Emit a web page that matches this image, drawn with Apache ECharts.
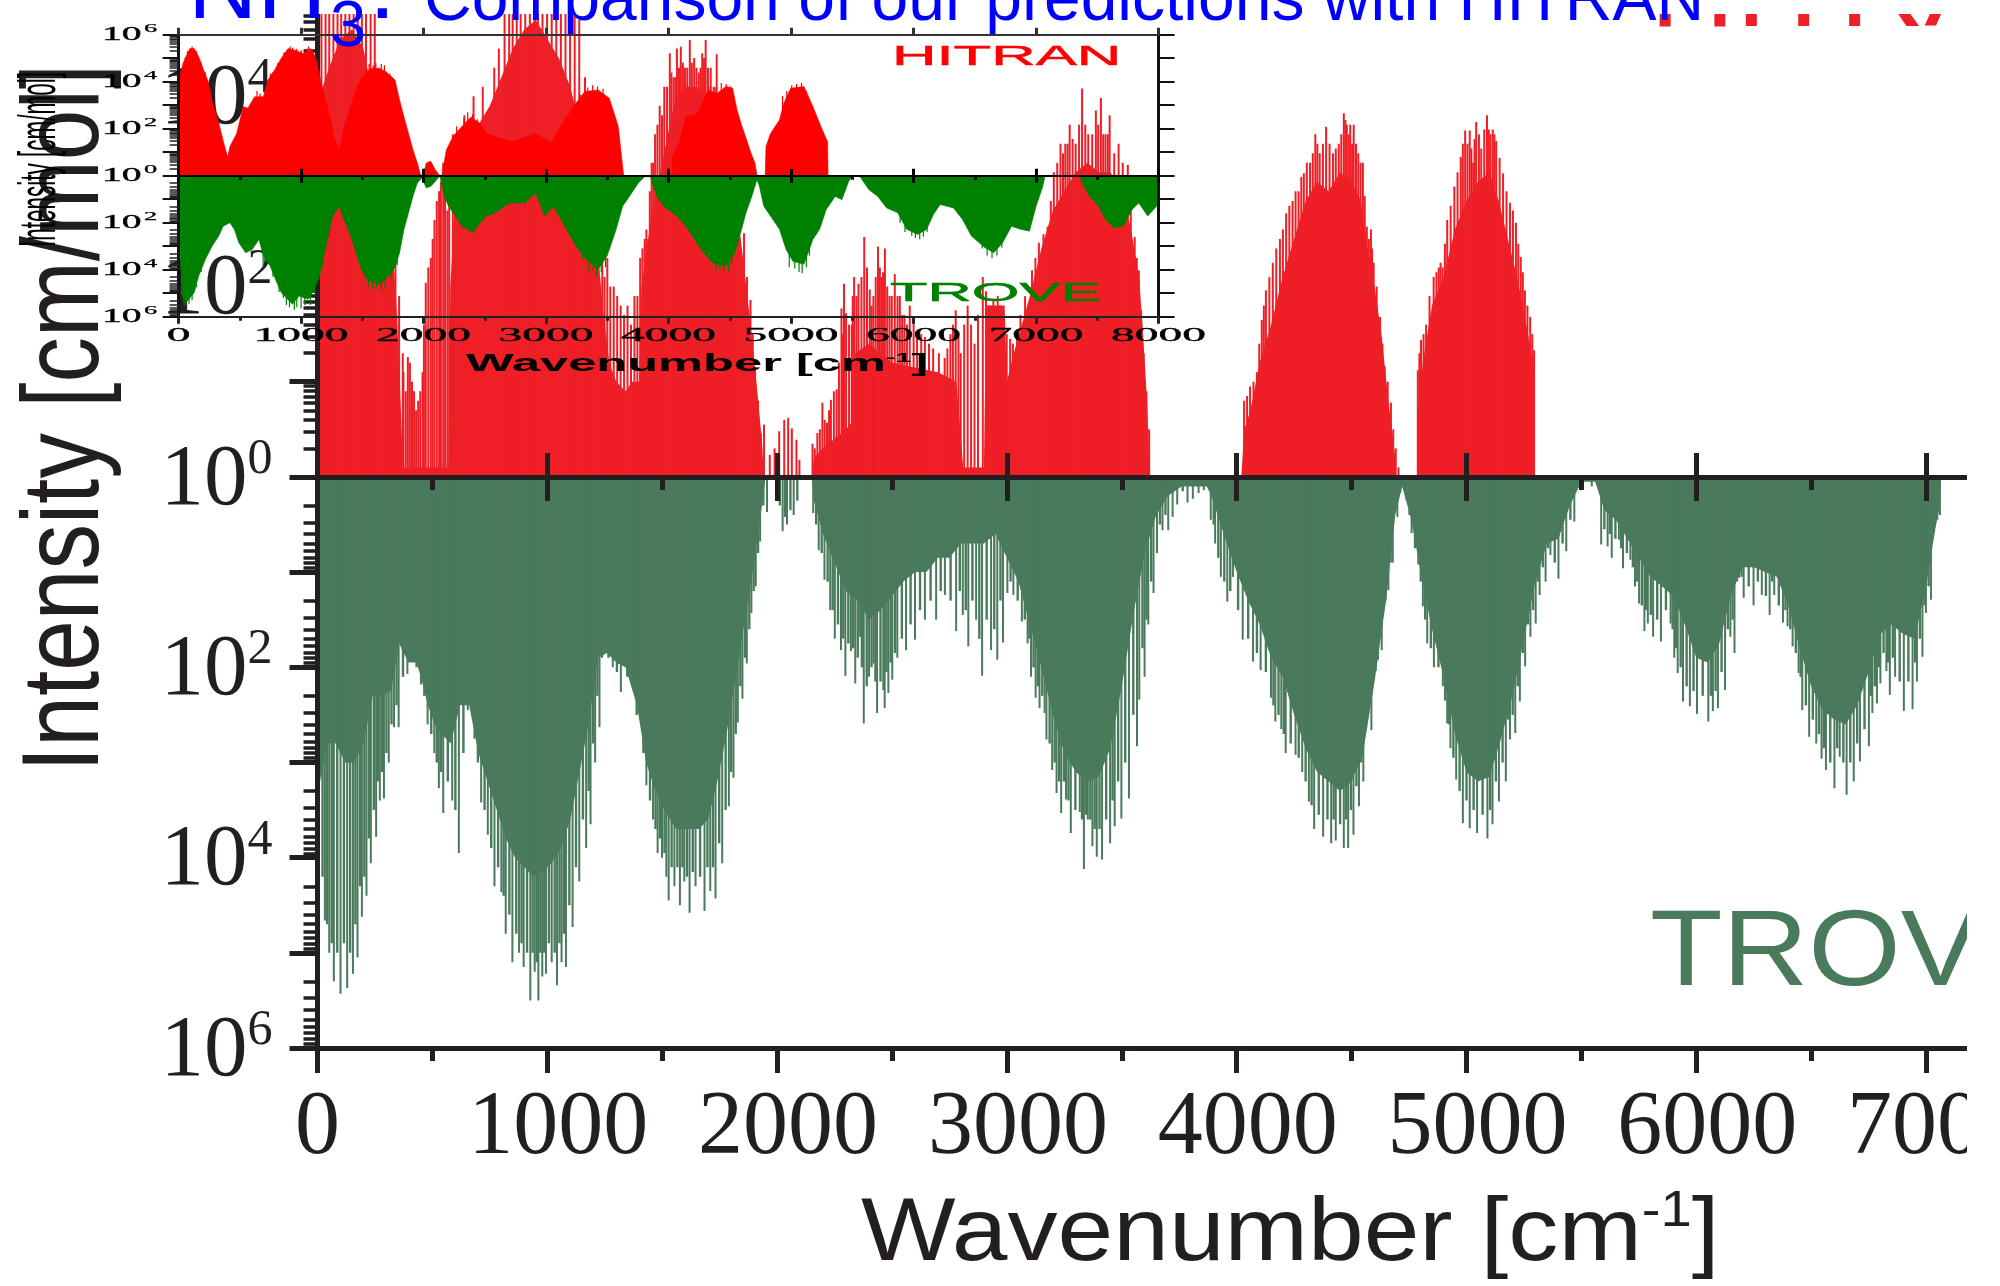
<!DOCTYPE html>
<html><head><meta charset="utf-8">
<style>html,body{margin:0;padding:0;background:#fff}#c{width:2000px;height:1286px}</style>
<script src="https://cdn.jsdelivr.net/npm/echarts@6/dist/echarts.min.js"></script>
</head><body><div id="c"></div>
<script>
// All intensities are exponents of ten (10^n); TROVE is plotted downwards as -n.
const mainRedBody=[[8,0],[10,4],[50,4.3],[100,4.6],[150,4.7],[200,4.5],[250,3.9],[300,3],[330,2.3],[346,1.7],[360,.9],[372,.1],[570,.1],[578,2],[600,3],[650,3.5],[700,3.7],[750,3.9],[800,4.2],[850,4.5],[900,4.7],[950,4.8],[1000,4.6],[1050,4.4],[1100,4.1],[1150,3.6],[1200,3],[1240,1.8],[1270,1.2],[1300,1],[1340,.9],[1370,1],[1400,1],[1410,2],[1450,2.7],[1500,3.3],[1550,3.9],[1600,4.1],[1650,4.1],[1700,4],[1750,3.7],[1800,3.2],[1842,2.5],[1880,1.7],[1910,1],[1935,.35],[1942,0],[2150,0],[2160,.2],[2200,.3],[2300,.5],[2335,.6],[2340,1.3],[2400,1.4],[2500,1.2],[2600,1.15],[2700,1.1],[2780,1],[2810,.1],[2900,.1],[2910,1.8],[2990,1.8],[3000,1],[3030,1.3],[3100,1.9],[3150,2.4],[3200,2.8],[3250,3],[3300,3.2],[3350,3.3],[3400,3.2],[3450,3.2],[3500,3],[3540,2.6],[3575,2.1],[3590,1.6],[3610,.8],[3622,0],[4020,0],[4033,.5],[4060,.7],[4100,1.2],[4150,1.6],[4200,2.1],[4250,2.5],[4300,2.9],[4350,3.1],[4400,3],[4450,3.2],[4500,3.1],[4540,2.9],[4570,2.4],[4600,2],[4630,1.5],[4660,.8],[4690,.2],[4695,0],[4785,0],[4790,.7],[4810,1.2],[4850,1.8],[4900,2.1],[4950,2.6],[5000,2.9],[5050,3.1],[5100,3.2],[5140,2.9],[5180,2.5],[5220,2.1],[5260,1.6],[5296,1.1],[5297,0]];
const mainRedLines=[[18,5],[36,5],[52,5],[70,5],[88,5],[104,5],[122,5],[140,5],[158,5],[176,5],[194,5],[212,5],[232,5],[250,5],[268,4.3],[286,3.6],[304,3.2],[322,2.9],[340,2.3],[356,1.9],[372,1.3],[394,1.26],[412,1],[430,.7],[448,.9],[472,2.04],[494,2.3],[510,2.7],[530,3],[548,3.3],[600,3.6],[640,3.8],[680,4],[720,4.1],[770,4.3],[790,4.5],[815,5],[835,5],[850,5],[868,5],[885,5],[905,5],[925,5],[945,5],[960,5],[980,5],[1000,5],[1020,5],[1040,5],[1060,5],[1080,5],[1100,5],[1120,5],[1140,4.8],[1165,4.2],[1190,3.6],[1215,2.9],[1240,2.5],[1262,2.3],[1290,2],[1320,1.8],[1350,1.8],[1380,1.9],[1405,2.3],[1425,2.5],[1440,2.5],[1455,3.3],[1470,3.6],[1490,3.9],[1510,4.1],[1534,4.45],[1550,4.2],[1565,4.5],[1582,4.52],[1600,4.3],[1621,4.59],[1640,4.4],[1660,4.25],[1675,4.45],[1690,4.59],[1712,4.3],[1738,4.44],[1760,3.9],[1780,3.6],[1810,3.3],[1857,2.56],[1885,1.86],[1905,1.15],[1930,.46],[1944,.55],[1969,.23],[1990,.3],[2010,.48],[2032,.6],[2049,.62],[2065,.51],[2085,.39],[2098,.18],[2155,.35],[2176,.46],[2198,.78],[2218,.57],[2235,.81],[2260,.92],[2281,1.77],[2292,2.03],[2301,1.72],[2326,1.6],[2336,2.1],[2355,2.03],[2380,2.52],[2404,1.97],[2420,1.9],[2440,2.42],[2455,2.1],[2470,2.4],[2490,1.9],[2513,2.13],[2535,1.9],[2555,1.7],[2578,1.8],[2610,1.5],[2644,1.47],[2680,1.35],[2730,1.25],[2755,1.5],[2778,1.75],[2800,1.3],[2830,1.8],[2860,1.4],[2896,2.1],[2925,1.8],[2961,1.9],[2979,1.7],[3027,1.4],[3060,1.7],[3110,2.17],[3140,2.46],[3178,2.63],[3205,3.2],[3234,3.5],[3255,3.5],[3274,3.7],[3300,3.5],[3328,4.08],[3355,3.6],[3388,3.85],[3410,3.98],[3430,3.6],[3448,3.8],[3487,3.5],[3527,3.28],[3557,2.52],[3575,2.17],[3585,1.75],[3608,.9],[3620,.5],[4033,.8],[4059,.95],[4089,1.1],[4110,1.65],[4128,1.96],[4158,2.25],[4189,2.5],[4216,2.77],[4244,2.9],[4270,3],[4293,3.19],[4320,3.3],[4343,3.6],[4362,3.4],[4390,3.68],[4420,3.4],[4445,3.5],[4467,3.82],[4480,3.7],[4495,3.7],[4510,3.7],[4530,3.4],[4550,3.3],[4567,2.63],[4585,2.6],[4597,2.25],[4625,1.68],[4645,1.16],[4672,.78],[4693,.3],[4705,.1],[4789,1.12],[4803,1.44],[4825,1.6],[4858,2.1],[4880,2.2],[4897,2.2],[4917,2.7],[4948,3.05],[4976,3.36],[4995,3.64],[5015,3.64],[5030,3.3],[5043,3.73],[5065,3.45],[5090,3.8],[5105,3.6],[5115,3.65],[5130,3.53],[5160,3.19],[5190,2.88],[5216,2.67],[5237,2.31],[5255,1.96],[5278,1.68],[5295,1.33]];
const mainRedLinesFine=[[375,1.1],[385,.9],[403,1.2],[421,.9],[439,.8],[458,1.1],[464,1.6],[483,2.2],[502,2.5],[520,2.9],[538,3.1],[556,3.3],[566,2.8],[574,3.2],[590,3.6],[1250,2.1],[1275,2],[1305,1.9],[1335,1.7],[1365,1.6],[1393,1.9],[1415,2.4],[1432,2.6],[1447,3],[1462,3.3],[1480,3.7],[1500,3.8],[1522,4.1],[1541,4.25],[1558,4.2],[1574,4.3],[1591,4.35],[1610,4.3],[1630,4.35],[1650,4.3],[1668,4.3],[1683,4.4],[1700,4.3],[1725,4.1],[1750,3.9],[1770,3.5],[1795,3.3],[1830,2.8],[1870,2.1],[1895,1.5],[1918,.8],[2165,.3],[2187,.5],[2208,.6],[2227,.7],[2248,.9],[2270,1.2],[2286,1.5],[2314,1.6],[2330,1.9],[2346,1.9],[2368,2.1],[2392,2.2],[2412,1.8],[2430,2.1],[2448,2.2],[2462,2.15],[2480,2],[2500,1.9],[2525,1.9],[2545,1.7],[2566,1.6],[2595,1.65],[2628,1.5],[2662,1.4],[2705,1.3],[2742,1.35],[2766,1.6],[2790,1.5],[2815,1.6],[2845,1.6],[2875,1.7],[2910,1.95],[2942,1.85],[2970,1.8],[3000,1.5],[3015,1.45],[3045,1.5],[3080,1.9],[3125,2.3],[3160,2.55],[3192,2.9],[3220,3.3],[3245,3.4],[3265,3.5],[3287,3.55],[3315,3.7],[3342,3.7],[3372,3.6],[3398,3.7],[3420,3.6],[3440,3.6],[3468,3.4],[3505,3.3],[3540,2.8],[3566,2.3],[3596,1.3],[4046,.85],[4074,1],[4099,1.4],[4119,1.8],[4143,2.1],[4173,2.4],[4202,2.6],[4230,2.85],[4257,3],[4282,3.15],[4306,3.3],[4332,3.4],[4352,3.5],[4376,3.5],[4405,3.5],[4432,3.45],[4456,3.6],[4474,3.75],[4488,3.6],[4503,3.5],[4520,3.5],[4540,3.3],[4558,2.95],[4576,2.5],[4590,2.4],[4610,2],[4635,1.4],[4658,1],[4682,.5],[4796,1.3],[4814,1.5],[4840,1.9],[4870,2.15],[4888,2.25],[4907,2.45],[4932,2.85],[4962,3.2],[4985,3.5],[5005,3.5],[5022,3.45],[5036,3.55],[5055,3.6],[5078,3.65],[5098,3.65],[5122,3.6],[5145,3.35],[5175,3],[5203,2.8],[5226,2.45],[5246,2.15],[5266,1.8],[5287,1.5]];
const mainGreenBody=[[5,0],[6,3],[14,3.2],[40,2.8],[80,2.8],[120,3],[160,3],[200,2.8],[240,2.3],[280,2.3],[320,2.25],[355,1.75],[395,1.95],[430,1.95],[450,2.1],[480,2.4],[510,2.6],[540,2.7],[580,2.8],[620,2.4],[660,2.4],[700,2.9],[740,3.2],[780,3.5],[820,3.8],[860,4],[900,4.1],[940,4.2],[980,4.15],[1020,4.05],[1060,3.9],[1100,3.6],[1140,3.1],[1180,2.6],[1220,1.9],[1260,1.85],[1300,1.95],[1340,2],[1390,2.4],[1430,3],[1470,3.3],[1510,3.5],[1560,3.7],[1610,3.7],[1660,3.7],[1700,3.6],[1740,3.2],[1780,2.7],[1820,2.1],[1860,1.5],[1900,.9],[1940,.2],[1950,0],[2150,0],[2160,.25],[2200,.6],[2250,.9],[2300,1.2],[2350,1.3],[2400,1.5],[2450,1.4],[2500,1.25],[2550,1.1],[2600,1],[2650,1],[2700,.85],[2750,.85],[2800,.7],[2850,.7],[2900,.7],[2950,.6],[3000,.85],[3050,1.1],[3100,1.55],[3150,2],[3200,2.5],[3250,2.9],[3300,3.1],[3350,3.2],[3400,3.15],[3450,2.85],[3500,2.2],[3550,1.45],[3600,.8],[3650,.4],[3700,.2],[3760,.1],[3870,.1],[3890,.2],[3950,.65],[4000,1],[4050,1.3],[4100,1.55],[4150,1.9],[4200,2.1],[4250,2.5],[4300,2.85],[4350,3.1],[4400,3.2],[4450,3.3],[4500,3.2],[4550,2.9],[4600,2.15],[4650,1.3],[4690,.4],[4720,.1],[4760,.45],[4800,1],[4850,1.6],[4900,2.1],[4950,2.7],[5000,3.1],[5050,3.2],[5100,3.15],[5150,2.75],[5200,2.3],[5250,1.7],[5300,1.1],[5350,.7],[5400,.65],[5450,.3],[5500,.05],[5560,.05],[5600,.35],[5650,.45],[5700,.65],[5750,.85],[5800,1.05],[5850,1.15],[5900,1.25],[5950,1.55],[6000,1.9],[6050,1.95],[6100,1.75],[6150,1.25],[6200,.95],[6250,.95],[6300,1],[6350,1.05],[6400,1.35],[6450,1.8],[6500,2.2],[6550,2.45],[6600,2.55],[6650,2.6],[6700,2.4],[6750,2.05],[6800,1.65],[6850,1.55],[6900,1.65],[6950,1.7],[7000,1.15],[7040,.55],[7060,.3],[7065,0]];
const mainGreenLines=[[33,4.66],[52,5],[72,5.3],[101,5.43],[130,5.37],[155,5.22],[175,5.05],[194,4.62],[214,4.4],[233,4.06],[256,3.78],[272,3.4],[290,3.38],[311,3],[334,2.63],[354,2.63],[392,2.07],[431,2],[451,2.18],[480,2.6],[509,2.9],[529,3.27],[548,3.53],[587,3.4],[616,3.95],[655,2.45],[684,2.75],[713,3.42],[742,3.76],[771,4.3],[801,4.36],[820,4.8],[849,5.1],[878,5],[898,5.15],[927,5.5],[946,5.2],[962,5.5],[979,5.25],[995,5.22],[1020,5.1],[1043,5.34],[1063,5.1],[1082,5.15],[1111,4.73],[1140,4.25],[1170,3.9],[1189,3.65],[1209,3],[1228,2.63],[1247,1.77],[1286,2],[1321,2.26],[1374,2.2],[1403,2.3],[1432,3.24],[1461,3.6],[1481,3.95],[1500,4],[1519,4.2],[1529,4.45],[1554,4.3],[1578,4.5],[1597,4.25],[1620,4.58],[1646,4.3],[1685,4.56],[1710,4.35],[1733,4.43],[1762,4.06],[1791,3.46],[1811,3.16],[1830,2.58],[1850,2.33],[1869,1.96],[1889,1.43],[1908,1.15],[1927,.68],[1957,.37],[2025,.57],[2044,.5],[2073,.4],[2158,.38],[2182,.77],[2207,1.08],[2232,1.4],[2252,1.7],[2279,1.82],[2298,2.09],[2322,1.83],[2341,2.17],[2362,1.68],[2378,2.59],[2401,2.1],[2421,1.96],[2436,2.48],[2463,2.24],[2469,2.43],[2485,2.27],[2502,2.13],[2524,1.9],[2562,1.82],[2601,1.71],[2644,1.5],[2693,1.5],[2731,1.24],[2780,1.62],[2809,1.45],[2833,1.78],[2867,1.5],[2893,2.09],[2932,1.82],[2959,1.92],[2984,1.74],[3003,1.22],[3029,1.24],[3066,1.52],[3091,1.75],[3106,2.1],[3126,2.32],[3143,2.43],[3165,2.48],[3173,2.76],[3198,3.08],[3217,3.32],[3237,3.53],[3258,3.39],[3279,3.74],[3318,3.52],[3336,4.12],[3353,3.6],[3373,3.88],[3392,3.99],[3415,4.02],[3450,3.85],[3470,3.67],[3499,3.59],[3532,3.38],[3567,2.83],[3577,2.34],[3600,2.1],[3616,1.55],[3639,1.22],[3654,.8],[3678,.56],[3703,.56],[3722,.42],[3742,.29],[3787,.27],[3810,.23],[3835,.17],[3858,.14],[3888,.45],[3907,.7],[3932,1.05],[3960,1.31],[3985,1.05],[4027,1.71],[4072,1.94],[4105,2.03],[4150,2.32],[4169,2.57],[4195,2.65],[4214,2.9],[4257,2.92],[4286,3.1],[4315,3.41],[4338,3.7],[4377,3.78],[4412,3.85],[4432,3.82],[4467,3.9],[4486,3.9],[4509,3.76],[4533,3.46],[4552,3.2],[4587,2.66],[4606,2.04],[4616,1.92],[4632,1.82],[4661,1.19],[4680,.9],[4700,.42],[4713,.17],[4739,.24],[4762,.59],[4791,.92],[4811,1.36],[4830,1.75],[4859,2],[4898,2.2],[4917,2.59],[4931,2.85],[4956,3.18],[4985,3.64],[5015,3.69],[5047,3.74],[5092,3.8],[5114,3.65],[5142,3.41],[5172,3.2],[5190,2.76],[5213,2.69],[5233,2.36],[5256,1.99],[5279,1.68],[5302,1.54],[5319,1.24],[5345,1.1],[5366,.82],[5401,1.07],[5435,.78],[5470,.47],[5500,.14],[5546,.1],[5587,.71],[5615,.73],[5633,.85],[5664,.66],[5682,.96],[5714,.87],[5734,1.15],[5752,1.33],[5775,1.62],[5790,1.54],[5813,1.68],[5847,1.73],[5889,1.54],[5905,1.9],[5920,2.06],[5943,2.36],[5973,2.41],[6004,2.49],[6053,2.57],[6073,2.46],[6095,2.43],[6126,2.24],[6149,1.68],[6167,1.85],[6187,1.06],[6207,1.27],[6250,1.35],[6286,1.24],[6320,1.45],[6340,1.24],[6378,1.53],[6398,1.57],[6420,1.78],[6446,2.06],[6462,2.45],[6492,2.73],[6523,2.8],[6546,2.96],[6565,3.08],[6602,3.27],[6625,2.94],[6655,3.34],[6686,3.2],[6713,2.99],[6752,2.83],[6767,2.48],[6787,2.38],[6802,2.17],[6828,2.04],[6843,2.29],[6866,2.1],[6904,2.46],[6942,2.44],[6961,2.15],[6985,1.89],[7000,1.43],[7022,1.29],[7034,.59],[7061,.4]];
const mainGreenLinesFine=[[22,4.2],[42,4.7],[62,4.9],[86,5],[115,4.9],[142,5],[165,4.7],[185,4.3],[204,4.2],[224,3.8],[245,3.5],[264,3.2],[281,3.1],[300,2.9],[322,2.6],[344,2.4],[372,2.1],[411,1.9],[441,2],[465,2.3],[495,2.7],[519,3],[538,3.1],[567,3.2],[600,3.5],[635,2.9],[670,2.4],[698,3],[727,3.5],[756,3.9],[786,4.1],[810,4.4],[835,4.6],[865,4.8],[888,4.9],[912,5],[936,5],[954,5.1],[970,5],[987,5],[1007,4.9],[1032,5],[1053,4.9],[1072,4.8],[1096,4.5],[1125,4.1],[1155,3.6],[1180,3.3],[1199,2.8],[1218,2.3],[1238,1.9],[1266,1.9],[1303,2.05],[1348,2.1],[1389,2.5],[1418,2.9],[1447,3.4],[1471,3.7],[1490,3.8],[1510,3.95],[1541,4.1],[1566,4.1],[1588,4.1],[1608,4.2],[1633,4.15],[1665,4.2],[1697,4.1],[1721,4.1],[1748,3.85],[1776,3.5],[1800,3.1],[1820,2.7],[1840,2.2],[1860,1.9],[1879,1.6],[1898,1.2],[1917,.8],[1940,.3],[2012,.3],[2035,.42],[2058,.35],[2088,.25],[2170,.5],[2194,.8],[2220,1.1],[2242,1.4],[2265,1.55],[2288,1.7],[2310,1.75],[2331,1.8],[2351,1.9],[2369,2],[2390,2.2],[2411,2],[2428,2.15],[2450,2.15],[2476,2.05],[2494,1.95],[2513,1.85],[2543,1.7],[2581,1.55],[2622,1.4],[2668,1.3],[2712,1.2],[2755,1.3],[2795,1.2],[2821,1.4],[2850,1.3],[2880,1.7],[2912,1.5],[2945,1.6],[2972,1.3],[3016,1.1],[3047,1.3],[3078,1.5],[3098,1.7],[3116,2],[3135,2.2],[3154,2.3],[3186,2.8],[3208,3],[3227,3.2],[3248,3.2],[3268,3.4],[3298,3.5],[3327,3.6],[3345,3.55],[3363,3.6],[3382,3.7],[3403,3.7],[3432,3.6],[3460,3.4],[3484,3.2],[3515,3],[3550,2.5],[3590,1.8],[3608,1.5],[3628,1.1],[3666,.5],[3690,.4],[3765,.15],[3900,.5],[3920,.85],[3946,1.1],[3972,1.2],[4006,1.4],[4050,1.7],[4088,1.85],[4127,2.05],[4160,2.4],[4182,2.5],[4205,2.7],[4235,2.8],[4270,2.95],[4300,3.2],[4326,3.45],[4357,3.55],[4395,3.6],[4422,3.6],[4450,3.65],[4476,3.6],[4497,3.5],[4521,3.25],[4542,3],[4570,2.4],[4596,1.9],[4624,1.6],[4647,1.3],[4670,.9],[4752,.4],[4776,.75],[4801,1.1],[4820,1.5],[4845,1.8],[4878,2],[4907,2.35],[4924,2.6],[4943,2.95],[4970,3.3],[5000,3.4],[5031,3.5],[5070,3.55],[5103,3.5],[5128,3.2],[5157,3],[5181,2.55],[5201,2.5],[5223,2.2],[5245,1.85],[5268,1.55],[5290,1.4],[5310,1.1],[5332,.95],[5355,.75],[5384,.9],[5418,.7],[5452,.45],[5600,.55],[5624,.6],[5648,.65],[5673,.75],[5698,.8],[5724,.95],[5743,1.1],[5763,1.35],[5782,1.4],[5802,1.45],[5830,1.5],[5868,1.4],[5897,1.6],[5912,1.8],[5932,2],[5958,2.2],[5988,2.25],[6028,2.3],[6063,2.3],[6084,2.25],[6110,2.05],[6137,1.6],[6158,1.5],[6177,1.1],[6197,1.05],[6228,1.15],[6268,1.1],[6303,1.25],[6330,1.1],[6359,1.35],[6388,1.4],[6409,1.6],[6433,1.85],[6454,2.1],[6477,2.4],[6507,2.55],[6534,2.7],[6555,2.85],[6583,3],[6613,2.85],[6640,3],[6670,3],[6700,2.8],[6732,2.65],[6760,2.3],[6777,2.2],[6795,2],[6815,1.85],[6835,1.95],[6855,1.9],[6885,2.15],[6923,2.15],[6952,1.95],[6973,1.7],[6993,1.35],[7011,1.15],[7028,.6],[7048,.45]];
const insetRed=[[0,0],[7,4.07],[36,4.78],[91,5.41],[128,5.41],[164,5.06],[200,4.56],[237,4.07],[273,3.2],[328,2.23],[383,1.1],[401,.8],[419,1.24],[474,1.8],[528,2.94],[565,2.87],[620,3.36],[692,3.36],[729,4.07],[784,4.5],[838,5],[893,5.41],[948,5.34],[1020,5.2],[1075,5.41],[1111,5.13],[1148,4.35],[1184,3.5],[1232,2.59],[1275,1.53],[1312,1.04],[1348,2],[1403,2.94],[1458,3.8],[1512,4.28],[1567,4.56],[1640,4.56],[1694,4.42],[1767,4.07],[1804,3.22],[1840,2.5],[1877,1.8],[1913,1.1],[1949,.54],[1975,.04],[1997,0],[2022,.54],[2059,.61],[2095,.25],[2132,0],[2150,.04],[2186,1.1],[2241,1.67],[2296,2],[2387,2.5],[2460,2.23],[2514,1.8],[2624,1.59],[2733,1.45],[2915,1.8],[3042,1.38],[3133,2.23],[3243,3.08],[3316,3.58],[3425,3.65],[3516,3.3],[3589,2.1],[3633,0],[4028,0],[4030,.8],[4085,1.38],[4140,2.5],[4212,2.57],[4249,2.8],[4322,3.65],[4395,3.5],[4468,3.8],[4522,3.73],[4559,2.8],[4595,2.16],[4632,1.6],[4668,1.03],[4705,.54],[4722,0],[4788,0],[4795,1.24],[4832,1.8],[4905,2.37],[4941,3.08],[4996,3.72],[5105,3.8],[5178,2.94],[5251,2],[5298,1.45],[5302,0]];
const insetGreen=[[0,0],[7,2.43],[36,5.26],[73,5.33],[128,4.97],[164,4.27],[219,3.56],[273,3],[328,2.57],[364,2.15],[419,2],[456,2.3],[492,2.85],[547,3.28],[601,3.14],[656,2.71],[692,3.42],[747,3.84],[802,4.55],[838,4.97],[929,5.47],[984,5.12],[1057,5.26],[1093,4.97],[1148,4.34],[1203,3],[1257,1.72],[1312,1.3],[1348,1.86],[1385,2.28],[1458,3.42],[1512,4.2],[1567,4.48],[1640,4.62],[1713,4.27],[1767,3.9],[1804,3.28],[1840,2.28],[1877,1.58],[1913,.88],[1949,.31],[1986,.1],[2022,.52],[2059,.45],[2095,.25],[2132,0],[2168,.88],[2204,1.3],[2259,1.72],[2314,2.15],[2405,2.43],[2460,2.01],[2514,1.72],[2587,1.58],[2697,1.16],[2824,1.16],[2915,.74],[2988,1.72],[3061,1.3],[3152,2.15],[3243,3],[3316,3.49],[3425,3.99],[3498,3.42],[3571,2.3],[3625,1.3],[3680,.88],[3753,.31],[3808,.03],[3848,0],[3903,.88],[3957,1.3],[4067,1.72],[4140,2.15],[4212,2.71],[4285,3.28],[4358,3.7],[4468,3.84],[4540,3.28],[4595,2.3],[4632,1.58],[4679,.88],[4722,.17],[4741,.45],[4777,1.3],[4832,1.72],[4905,2.28],[4959,3.14],[5014,3.64],[5105,3.77],[5178,2.71],[5233,2.28],[5287,1.44],[5360,.88],[5415,1.02],[5470,.24],[5506,0],[5561,.03],[5634,.59],[5707,.88],[5780,1.37],[5871,1.58],[5943,2.28],[6034,2.5],[6107,2.28],[6162,1.65],[6217,1.23],[6326,1.37],[6399,1.86],[6472,2.57],[6581,3.06],[6654,3.28],[6727,2.85],[6800,2.15],[6873,2.28],[6946,2.36],[7000,1.3],[7055,.45],[7073,0],[7364,0],[7367,.24],[7437,.88],[7511,1.3],[7565,1.86],[7638,2.22],[7711,2.15],[7784,1.44],[7838,1.16],[7911,1.72],[7984,1.3],[8000,.88]];
const insetRedTeeth=[[20,4.5],[55,5.05],[72,5.3],[110,5.5],[146,5.3],[182,4.85],[218,4.4],[255,3.7],[640,3.6],[665,3.5],[710,3.7],[750,4.35],[770,4.4],[810,4.8],[860,5.25],[910,5.5],[930,5.45],[965,5.4],[1000,5.35],[1040,5.4],[1060,5.5],[1095,5.35],[1130,4.9],[1490,4.2],[1530,4.55],[1555,4.75],[1590,4.7],[1610,4.8],[1655,4.75],[1680,4.7],[1725,4.35],[2270,2.1],[2330,2.45],[2360,2.7],[2400,2.6],[2440,2.4],[3280,3.45],[3340,3.75],[3380,3.85],[3420,3.8],[3465,3.7],[4300,3.1],[4340,3.8],[4380,3.75],[4430,3.95],[4470,3.9],[4505,3.8],[4930,3.4],[4965,3.6],[5005,3.85],[5045,3.9],[5085,3.95],[5125,3.6]];
const insetGreenTeeth=[[12,4],[25,5.1],[45,5.5],[60,5.55],[85,5.45],[110,5.3],[145,4.75],[185,4.1],[690,3.9],[720,3.7],[770,4.3],[820,4.95],[855,5.2],[880,5.5],[905,5.6],[945,5.7],[965,5.6],[1000,5.65],[1030,5.5],[1075,5.5],[1110,5],[1170,3.9],[1230,2.6],[1470,3.7],[1490,4],[1530,4.5],[1550,4.7],[1585,4.85],[1615,4.75],[1655,4.9],[1685,4.8],[1735,4.4],[1785,3.8],[3300,3.6],[3350,4.1],[3385,4.05],[3410,4.3],[3450,4.1],[3485,3.9],[4390,4],[4420,4],[4450,4.1],[4490,4.05],[4515,3.8],[4985,3.9],[5030,3.95],[5065,4.1],[5090,4.15],[5125,3.9],[5150,3.4],[5890,2],[5930,2.4],[5985,2.55],[6015,2.65],[6050,2.7],[6080,2.6],[6110,2.4],[6560,3.1],[6600,3.4],[6640,3.5],[6680,3.4],[6720,3.05]];
const mainXTicks=[0,1000,2000,3000,4000,5000,6000,7000];
const mainXMinor=[500,1500,2500,3500,4500,5500,6500];
const mainYTicks=[-6,-5,-4,-3,-2,-1,0,1,2,3,4,5];
const mainYLabels=[-6,-4,-2,0,2,4];
const decadeFractions=[.301,.477,.602,.699,.778,.845,.903,.954];
const insetXTicks=[0,1000,2000,3000,4000,5000,6000,7000,8000];
const insetXMinor=[500,1500,2500,3500,4500,5500,6500,7500];
const insetYTicks=[-6,-5,-4,-3,-2,-1,0,1,2,3,4,5,6];
const insetYLabels=[-6,-4,-2,0,2,4,6];

const ink='#231f20',MAINRED='#ee1f26',MAINGREEN='#4a7a5c';
const SANS='"Liberation Sans",Arial,sans-serif',SERIF='"Liberation Serif","Times New Roman",serif';
const minors=[];for(let n=-6;n<5;n++){decadeFractions.forEach(f=>{const v=n>=0?n+f:n+1-f;if(v>=-6)minors.push(+v.toFixed(3));});}
const insetMinors=[];for(let n=-6;n<6;n++){decadeFractions.forEach(f=>{const v=n>=0?n+f:n+1-f;if(v>=-6)insetMinors.push(+v.toFixed(3));});}
const neg=a=>a.map(d=>[d[0],-d[1]]);

function xA(grid,min,max,ticks,len,opts={}){
  const w=opts.w||5,col=opts.col||ink;
  return {type:'value',gridIndex:grid,min,max,position:opts.pos||'bottom',z:opts.z,
    splitLine:{show:false},
    axisLine:{show:!!opts.line,onZero:!!opts.zero,onZeroAxisIndex:opts.zero?opts.yi:undefined,lineStyle:{color:col,width:opts.lw||w}},
    axisTick:{show:true,customValues:ticks,length:len,inside:!!opts.inside,lineStyle:{color:col,width:w}},
    axisLabel:opts.label||{show:false}};
}
function yA(grid,min,max,ticks,len,opts={}){
  const w=opts.w||5,col=opts.col||ink;
  return {type:'value',gridIndex:grid,min,max,position:opts.pos||'left',z:opts.z,
    splitLine:{show:false},
    axisLine:{show:!!opts.line,onZero:false,lineStyle:{color:col,width:opts.lw||w}},
    axisTick:{show:true,customValues:ticks,length:len,lineStyle:{color:col,width:w}},
    axisLabel:opts.label||{show:false}};
}
const xmaxMain=7178;
const bar=(name,xi,yi,data,color,w,z)=>({name,type:'bar',xAxisIndex:xi,yAxisIndex:yi,data,barWidth:w,barGap:'-100%',itemStyle:{color},z});
const area=(name,xi,yi,data,color,z,lw)=>({name,type:'line',xAxisIndex:xi,yAxisIndex:yi,data,showSymbol:false,symbol:'none',lineStyle:{width:lw||0,color},areaStyle:{color,opacity:1},z});
const option={
  animation:false,backgroundColor:'#fff',
  grid:[{left:317.5,top:1,width:1649.5,height:1047,outerBoundsMode:'none'},{left:178.6,top:34.7,width:980,height:282,outerBoundsMode:'none'}],
  xAxis:[
    xA(0,0,xmaxMain,mainXTicks,25,{line:true,z:4,label:{show:true,customValues:mainXTicks,margin:36,color:ink,formatter:v=>v===0?'{z|0}':'{p|'+v+'}',hideOverlap:false,rich:{z:{fontFamily:SERIF,fontSize:90,color:ink},p:{fontFamily:SERIF,fontSize:90,color:ink,padding:[0,0,0,22]}}}}),
    xA(0,0,xmaxMain,mainXMinor,13,{z:4}),
    xA(0,0,xmaxMain,mainXTicks,24,{line:true,zero:true,yi:0,z:4}),
    xA(0,0,xmaxMain,mainXTicks,24,{zero:true,yi:0,inside:true,z:4}),
    xA(0,0,xmaxMain,mainXMinor,13,{zero:true,yi:0,z:4}),
    xA(1,0,8000,insetXTicks,7,{line:true,w:3,lw:2,col:'#222',z:9}),
    xA(1,0,8000,insetXMinor,4,{w:3,col:'#222',z:9}),
    xA(1,0,8000,insetXTicks,7,{line:true,pos:'top',w:3,lw:2,col:'#333',z:9}),
    xA(1,0,8000,insetXTicks,7,{line:true,zero:true,yi:2,w:3,lw:2,col:'#000',z:9}),
    xA(1,0,8000,insetXTicks,7,{zero:true,yi:2,inside:true,w:3,col:'#000',z:9}),
    xA(1,0,8000,insetXMinor,4,{zero:true,yi:2,w:3,col:'#000',z:9})
  ],
  yAxis:[
    yA(0,-6,5,mainYTicks,28,{line:true,z:4,label:{show:true,customValues:mainYLabels,margin:45,formatter:v=>'{a|10}{b|'+Math.abs(v)+'}',rich:{a:{fontFamily:SERIF,fontSize:87,lineHeight:112,padding:[8,0,0,0],color:ink},b:{fontFamily:SERIF,fontSize:50,lineHeight:50,padding:[14,0,0,0],verticalAlign:'top',color:ink}}}}),
    yA(0,-6,5,minors,14,{w:3.5,z:4}),
    yA(1,-6,6,insetYTicks,16,{line:true,w:2,lw:3,col:'#111',z:9}),
    yA(1,-6,6,insetMinors,9,{w:1.5,col:'#222',z:9}),
    yA(1,-6,6,insetYTicks,16,{line:true,pos:'right',w:2,lw:3,col:'#111',z:9})
  ],
  series:[
    area('HITRAN body',0,0,mainRedBody,MAINRED,2),
    bar('HITRAN lines',0,0,mainRedLines,MAINRED,2,2),
    bar('HITRAN fine lines',0,0,mainRedLinesFine,MAINRED,2,2),
    area('TROVE body',0,0,neg(mainGreenBody),MAINGREEN,2),
    bar('TROVE lines',0,0,neg(mainGreenLines),MAINGREEN,2,2),
    bar('TROVE fine lines',0,0,neg(mainGreenLinesFine),MAINGREEN,2.4,2),
    area('HITRAN inset',5,2,insetRed,'#f00',8,.6),
    bar('HITRAN inset lines',5,2,insetRedTeeth,'#f00',1.2,8),
    area('TROVE inset',5,2,neg(insetGreen),'#008000',8,.6),
    bar('TROVE inset lines',5,2,neg(insetGreenTeeth),'#008000',1.2,8)
  ]
};
const chart=echarts.init(document.getElementById('c'),null,{renderer:'canvas'});
chart.setOption(option);

// y is the text baseline; the canvas "middle" sits about a third of the size above it.
function T(text,x,y,size,fill,o={}){
  const off=.34*size;
  const px=o.rot?x-off*(o.sy||1):x, py=o.rot?y:y-off;
  return {type:'text',x:px,y:py,z:o.z||6,scaleX:o.sx||1,scaleY:o.sy||1,rotation:o.rot||0,silent:true,
    style:{text,fill,font:size+'px '+(o.fam||SANS),textAlign:o.align||'left',textVerticalAlign:'middle',stroke:o.bold?fill:undefined,lineWidth:o.bold||0}};
}
const insX=v=>chart.convertToPixel({xAxisIndex:5},v), insY=v=>chart.convertToPixel({yAxisIndex:2},v);
const g=[];
g.push(T('HITRAN',1650,33,107,MAINRED,{sx:1.1,z:5}));
g.push(T('TROVE',1650,992,107,MAINGREEN,{sx:1.11,z:5}));
g.push(T('Intensity [cm/mol]',105,772,91,ink,{rot:Math.PI/2,sy:1.2,z:5}));
g.push({type:'text',x:861,y:1235,z:5,scaleX:1.125,silent:true,style:{text:'{a|Wavenumber [cm}{s|-1}{a|]}',fill:ink,textAlign:'left',textVerticalAlign:'middle',rich:{a:{fontFamily:SANS,fontSize:89,fill:ink,lineHeight:96},s:{fontFamily:SANS,fontSize:50,fill:ink,lineHeight:50,verticalAlign:'top'}}}});
g.push({type:'rect',z:7,silent:true,shape:{x:0,y:0,width:2000,height:14},style:{fill:'#fff'}});
g.push({type:'rect',z:7,silent:true,shape:{x:1950,y:0,width:50,height:40},style:{fill:'#fff'}});
g.push({type:'rect',z:7,silent:true,shape:{x:1967,y:0,width:33,height:1286},style:{fill:'#fff'}});
insetXTicks.forEach(v=>g.push(T(String(v),insX(v),342,19,'#000',{fam:SERIF,sx:2.5,align:'center',z:10,bold:.35})));
insetYLabels.forEach(v=>{const y=insY(v);
  g.push(T('10',102,y+7,18,'#000',{fam:SERIF,sx:2.2,z:10,bold:.35}));
  g.push(T(String(Math.abs(v)),144,y-2,12,'#000',{fam:SERIF,sx:2.2,z:10,bold:.25}));});
g.push(T('HITRAN',892,67,28,'#f00',{sx:2.2,z:10,bold:.5}));
g.push(T('TROVE',890,303,26,'#008000',{sx:2.36,z:10,bold:.5}));
g.push({type:'text',x:466,y:365,z:10,scaleX:2.2,silent:true,style:{text:'{a|Wavenumber [cm}{s|-1}{a|]}',fill:'#000',textAlign:'left',textVerticalAlign:'middle',rich:{a:{fontFamily:SANS,fontWeight:'bold',fontSize:23,fill:'#000',lineHeight:26},s:{fontFamily:SANS,fontWeight:'bold',fontSize:13,fill:'#000',lineHeight:13,verticalAlign:'top'}}}});
g.push(T('Intensity [cm/mol]',58,247,22.5,'#000',{rot:Math.PI/2,sy:2.3,z:10}));
g.push(T('NH',188,24,96,'#00f',{z:12}));
g.push(T('3',330,50,65,'#00f',{z:12}));
g.push(T(':',369,24,96,'#00f',{z:12}));
g.push(T('Comparison of our predictions with HITRAN',424,24,66,'#00f',{z:12}));
chart.setOption({graphic:g});
</script></body></html>
